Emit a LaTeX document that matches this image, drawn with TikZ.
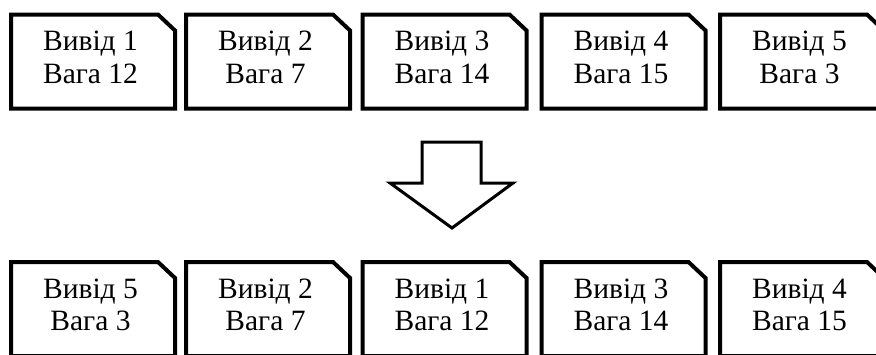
\documentclass[tikz,border=0pt]{standalone}
\usepackage{fontspec}
\setmainfont{Liberation Serif}
\tikzset{
  boxn/.style={minimum width=164pt, minimum height=94pt, inner sep=0pt, outer sep=0pt},
  boxline/.style={line width=4pt, line join=miter, draw=black, fill=white},
  lbl/.style={font=\fontsize{29.5}{34}\selectfont, inner sep=0pt, text=black},
  arrowline/.style={line width=3pt, line join=miter, draw=black, fill=white}
}
\newcommand\cbox[5]{%
  \node[boxn, anchor=north west] (#1) at (#2,#3) {};
  \draw[boxline] (#1.south west) -- (#1.north west) -- ([xshift=-17pt]#1.north east) -- ([yshift=-16pt]#1.north east) -- (#1.south east) -- cycle;
  \node[lbl, anchor=base] (#1a) at ([xshift=-2.5pt, yshift=-36pt]#1.north) {#4};
  \node[lbl, anchor=base] (#1b) at ([xshift=-2.5pt, yshift=-68.5pt]#1.north) {#5};
}
\begin{document}
\begin{tikzpicture}[x=1pt, y=-1pt]
\useasboundingbox (0,0) rectangle (876,354);
\fill[white] (0,0) rectangle (876,354);
\cbox{a1}{11}{14.5}{Вивід 1}{Вага 12}
\cbox{a2}{186}{14.5}{Вивід 2}{Вага 7}
\cbox{a3}{362.5}{14.5}{Вивід 3}{Вага 14}
\cbox{a4}{541.5}{14.5}{Вивід 4}{Вага 15}
\cbox{a5}{720}{14.5}{Вивід 5}{Вага 3}
\draw[arrowline] (422,142) -- (481,142) -- (481,183) -- (513,183) -- (452,228) -- (390,183) -- (422,183) -- cycle;
\cbox{c1}{11}{262}{Вивід 5}{Вага 3}
\cbox{c2}{186}{262}{Вивід 2}{Вага 7}
\cbox{c3}{362.5}{262}{Вивід 1}{Вага 12}
\cbox{c4}{541.5}{262}{Вивід 3}{Вага 14}
\cbox{c5}{720}{262}{Вивід 4}{Вага 15}
\end{tikzpicture}
\end{document}
